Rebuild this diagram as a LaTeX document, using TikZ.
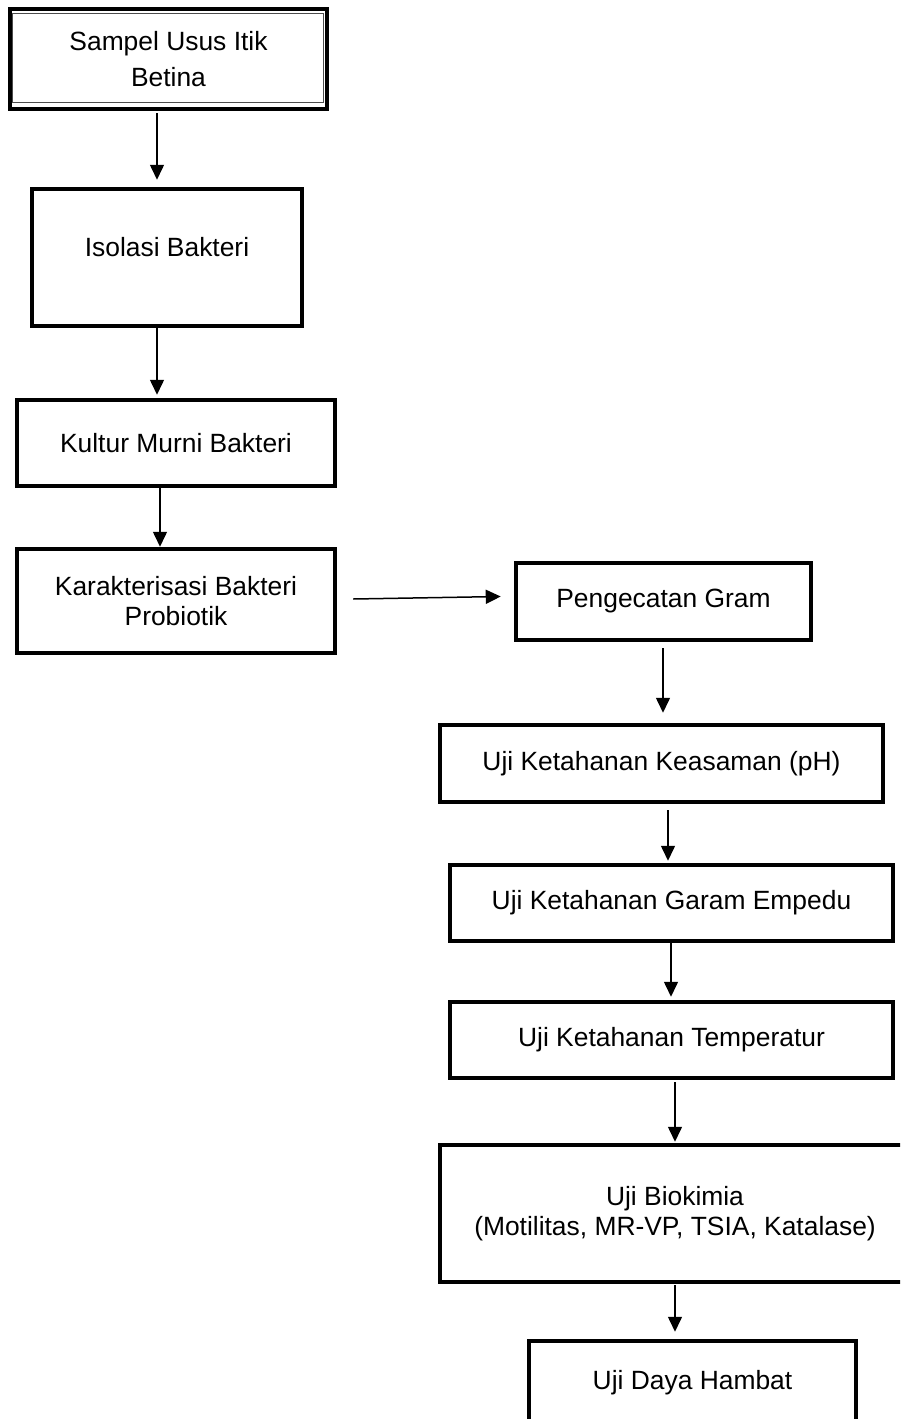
\documentclass[tikz,border=0pt]{standalone}
\usepackage{fontspec}
\setmainfont{Liberation Sans}
\usetikzlibrary{calc,arrows.meta}
\tikzset{
  txt/.style={font=\fontsize{13.2}{15.2}\selectfont},
  box/.style={draw, line width=2.25pt, inner sep=0pt, align=center, txt},
  arr/.style={line width=0.75pt, -{Triangle[length=7.5pt,width=7pt]}}
}
\begin{document}
\begin{tikzpicture}[x=0.5pt,y=-0.5pt]
\useasboundingbox (0,0) rectangle (900,1419);
\clip (0,0) rectangle (900,1419);
% boxes
\node[box, line width=2pt, minimum width=158.5pt, minimum height=50pt] (b1) at (168.5,59) {Sampel Usus Itik\\[2.5pt]Betina};
\draw[line width=0.5pt, black!70] (12.5,13) rectangle (323.5,102.5);
\node[box, minimum width=135pt, minimum height=68.5pt, label={[yshift=5pt, txt]center:Isolasi Bakteri}] (b2) at (167,257.5) {};
\node[box, minimum width=159pt, minimum height=43pt] (b3) at (176,443) {Kultur Murni Bakteri};
\node[box, minimum width=159pt, minimum height=52pt] (b4) at (176,601) {Karakterisasi Bakteri\\Probiotik};
\node[box, minimum width=147.5pt, minimum height=38.5pt] (b5) at (663.5,601.5) {Pengecatan Gram};
\node[box, minimum width=221.5pt, minimum height=38.5pt] (b6) at (661.5,763.5) {Uji Ketahanan Keasaman (pH)};
\node[box, minimum width=221.5pt, minimum height=38pt] (b7) at (671.5,903) {Uji Ketahanan Garam Empedu};
\node[box, minimum width=221.5pt, minimum height=38pt] (b8) at (671.5,1040) {Uji Ketahanan Temperatur};
\node[box, minimum width=235pt, minimum height=68.5pt] (b9) at (675,1213.5) {Uji Biokimia\\(Motilitas, MR-VP, TSIA, Katalase)};
\node[box, minimum width=163.5pt, minimum height=42pt] (b10) at (692.5,1383) {Uji Daya Hambat};
% connectors
\draw[arr, shorten <=1pt, shorten >=3.5pt] (157,0 |- b1.south) -- (157,0 |- b2.north);
\draw[arr, shorten >=1.5pt] (157,0 |- b2.south) -- (157,0 |- b3.north);
\draw[arr] (160,0 |- b3.south) -- (160,0 |- b4.north);
\draw[arr] ($(b4.east)+(16,-2)$) -- ($(b5.west)+(-13,-5)$);
\draw[arr, shorten <=3pt, shorten >=5pt] (663,0 |- b5.south) -- (663,0 |- b6.north);
\draw[arr, shorten <=3pt, shorten >=1pt] (668,0 |- b6.south) -- (668,0 |- b7.north);
\draw[arr, shorten >=1.5pt] (671,0 |- b7.south) -- (671,0 |- b8.north);
\draw[arr, shorten <=1pt, shorten >=0.5pt] (675,0 |- b8.south) -- (675,0 |- b9.north);
\draw[arr, shorten <=0.5pt, shorten >=3.5pt] (675,0 |- b9.south) -- (675,0 |- b10.north);
\end{tikzpicture}
\end{document}
